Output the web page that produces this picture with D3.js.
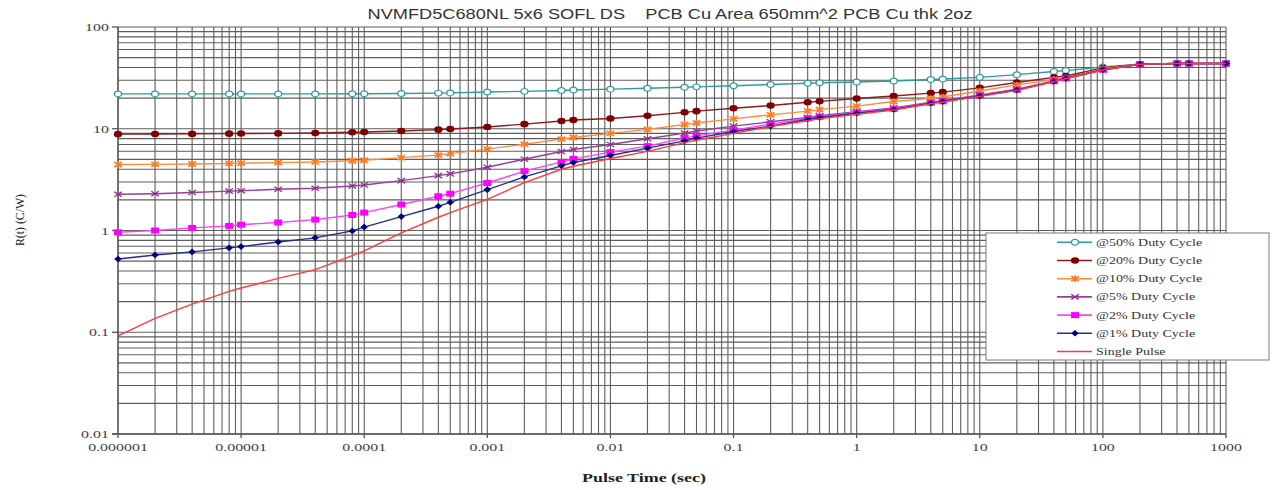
<!DOCTYPE html>
<html>
<head>
<meta charset="utf-8">
<script src="https://cdn.jsdelivr.net/npm/d3@7"></script>
<style>
  body { margin: 0; background: #fff; }
  svg { display: block; }
  .grid line { stroke: #5e5e5e; stroke-width: 1.1; }
  .tickLabel { font-family: "Liberation Serif", serif; font-size: 11px; fill: #404040; }
  .legendText { font-family: "Liberation Serif", serif; font-size: 10px; fill: #333; }
  .title { white-space: pre; }
</style>
</head>
<body>
<svg id="chart" width="1274" height="490"></svg>
<script>
// pulse times (sec), shared by every series
var pulseTime = [1e-6, 2e-6, 4e-6, 8e-6, 1e-5, 2e-5, 4e-5, 8e-5, 1e-4, 2e-4, 4e-4, 5e-4,
                 1e-3, 2e-3, 4e-3, 5e-3, 1e-2, 2e-2, 4e-2, 5e-2, 0.1, 0.2, 0.4, 0.5,
                 1, 2, 4, 5, 10, 20, 40, 50, 100, 200, 400, 500, 1000];

// R(t) values (C/W)
var duty50 = [22.0, 22.0, 22.0, 22.0, 22.0, 22.0, 22.0, 22.1, 22.1, 22.2, 22.4, 22.5,
              23.0, 23.3, 23.8, 24.0, 24.5, 25.0, 25.6, 25.8, 26.5, 27.2, 28.0, 28.3,
              28.8, 29.5, 30.5, 30.8, 32.0, 34.0, 36.5, 37.3, 40.5, 43.0, 43.8, 43.8, 43.8];
var duty20 = [8.85, 8.87, 8.9, 8.95, 8.97, 9.0, 9.1, 9.25, 9.3, 9.5, 9.8, 9.95,
              10.4, 11.1, 11.9, 12.2, 12.6, 13.4, 14.5, 14.9, 15.9, 16.9, 18.2, 18.6,
              19.8, 21.0, 22.4, 22.9, 25.2, 28.5, 32.0, 33.0, 39.5, 43.0, 43.8, 43.8, 43.8];
var duty10 = [4.45, 4.47, 4.5, 4.56, 4.58, 4.65, 4.72, 4.85, 4.9, 5.2, 5.5, 5.7,
              6.3, 7.05, 7.9, 8.2, 9.0, 9.85, 11.0, 11.4, 12.5, 13.7, 14.9, 15.4,
              16.7, 18.5, 19.9, 20.5, 23.5, 27.0, 30.5, 31.5, 39.0, 43.0, 43.8, 43.8, 43.8];
var duty5 = [2.27, 2.3, 2.36, 2.44, 2.46, 2.54, 2.6, 2.74, 2.8, 3.09, 3.46, 3.6,
             4.19, 5.02, 5.97, 6.25, 7.0, 7.97, 9.06, 9.5, 10.6, 11.7, 12.9, 13.4,
             14.7, 16.0, 18.2, 18.9, 21.5, 24.5, 29.5, 31.5, 38.0, 43.0, 43.8, 43.8, 43.8];
var duty2 = [0.96, 1.0, 1.06, 1.11, 1.14, 1.2, 1.28, 1.42, 1.5, 1.8, 2.17, 2.3,
             2.93, 3.83, 4.72, 5.06, 5.9, 6.75, 8.1, 8.5, 9.7, 11.1, 12.7, 13.1,
             14.5, 15.7, 18.0, 18.6, 21.2, 24.2, 29.3, 31.3, 38.0, 43.0, 43.8, 43.8, 43.8];
var duty1 = [0.525, 0.575, 0.616, 0.675, 0.695, 0.77, 0.847, 0.99, 1.08, 1.37, 1.73, 1.89,
             2.52, 3.36, 4.32, 4.66, 5.46, 6.45, 7.6, 8.1, 9.4, 10.6, 12.4, 12.9,
             14.2, 15.5, 17.8, 18.5, 21.0, 24.0, 29.2, 31.2, 38.0, 43.0, 43.8, 43.8, 43.8];
var singlePulse = [0.092, 0.137, 0.189, 0.252, 0.272, 0.338, 0.412, 0.567, 0.63, 0.95, 1.35, 1.5,
                   2.02, 2.95, 4.0, 4.28, 5.1, 6.0, 7.3, 7.7, 9.0, 10.5, 12.0, 12.5,
                   13.9, 15.3, 17.6, 18.3, 20.8, 23.8, 29.0, 31.0, 37.8, 43.0, 43.8, 43.8, 43.8];

var seriesNames = ["@50% Duty Cycle", "@20% Duty Cycle", "@10% Duty Cycle", "@5% Duty Cycle",
                   "@2% Duty Cycle", "@1% Duty Cycle", "Single Pulse"];
var xTickLabels = ["0.000001", "0.00001", "0.0001", "0.001", "0.01", "0.1", "1", "10", "100", "1000"];
var yTickLabels = ["0.01", "0.1", "1", "10", "100"];

var titleText = "NVMFD5C680NL 5x6 SOFL DS    PCB Cu Area 650mm^2 PCB Cu thk 2oz";

// styling per series (kept apart from the data)
var styles = [
  { line: "#2f9c9a", marker: "circleOpen", color: "#2f9c9a" },
  { line: "#8e1b1b", marker: "circle", color: "#7f0000" },
  { line: "#ff8a3a", marker: "asterisk", color: "#ff7a1f" },
  { line: "#9a3c9a", marker: "x", color: "#8e2f8e" },
  { line: "#ff40ff", marker: "square", color: "#ff00ff" },
  { line: "#22308f", marker: "diamond", color: "#000080" },
  { line: "#ff3a3a", marker: null, color: "#ff3a3a" }
];
var allSeries = [duty50, duty20, duty10, duty5, duty2, duty1, singlePulse];

var svg = d3.select("#chart");

var plotLeft = 118, plotRight = 1226, plotTop = 27, plotBottom = 434;

var xScale = d3.scaleLog().domain([1e-6, 1000]).range([plotLeft, plotRight]);
var yScale = d3.scaleLog().domain([0.01, 100]).range([plotBottom, plotTop]);

// grid lines (every 1..9 of each decade)
var grid = svg.append("g").attr("class", "grid");
grid.selectAll("vlines")
    .data(xScale.ticks())
    .enter()
    .append("line")
    .attr("x1", function(d) { return xScale(d); })
    .attr("x2", function(d) { return xScale(d); })
    .attr("y1", plotTop)
    .attr("y2", plotBottom);
grid.selectAll("hlines")
    .data(yScale.ticks())
    .enter()
    .append("line")
    .attr("x1", plotLeft)
    .attr("x2", plotRight)
    .attr("y1", function(d) { return yScale(d); })
    .attr("y2", function(d) { return yScale(d); });

// axes lines + major ticks
svg.append("line")
   .attr("x1", plotLeft).attr("x2", plotLeft)
   .attr("y1", plotTop).attr("y2", plotBottom)
   .attr("stroke", "#555").attr("stroke-width", 1.3);
svg.append("line")
   .attr("x1", plotLeft - 6).attr("x2", plotRight)
   .attr("y1", plotBottom).attr("y2", plotBottom)
   .attr("stroke", "#555").attr("stroke-width", 1.3);

svg.selectAll("yTicks")
   .data(yTickLabels)
   .enter()
   .append("line")
   .attr("x1", plotLeft - 6).attr("x2", plotLeft)
   .attr("y1", function(d) { return yScale(+d); })
   .attr("y2", function(d) { return yScale(+d); })
   .attr("stroke", "#555").attr("stroke-width", 1.3);

svg.selectAll("xTicks")
   .data(xTickLabels)
   .enter()
   .append("line")
   .attr("x1", function(d) { return xScale(+d); })
   .attr("x2", function(d) { return xScale(+d); })
   .attr("y1", plotBottom).attr("y2", plotBottom + 4)
   .attr("stroke", "#555").attr("stroke-width", 1.3);

// tick labels (the picture is stretched sideways, so the text is too)
svg.selectAll("yLabels")
   .data(yTickLabels)
   .enter()
   .append("text")
   .attr("class", "tickLabel")
   .attr("text-anchor", "end")
   .attr("transform", function(d) {
     return "translate(" + (plotLeft - 9) + "," + (yScale(+d) + 4) + ") scale(1.45,1)";
   })
   .text(function(d) { return d; });

svg.selectAll("xLabels")
   .data(xTickLabels)
   .enter()
   .append("text")
   .attr("class", "tickLabel")
   .attr("text-anchor", "middle")
   .attr("transform", function(d) {
     return "translate(" + xScale(+d) + "," + (plotBottom + 17) + ") scale(1.45,1)";
   })
   .text(function(d) { return d; });

// lines
var lineGen = d3.line()
    .x(function(d, i) { return xScale(pulseTime[i]); })
    .y(function(d) { return yScale(d); });

function markerPath(type) {
  if (type == "circleOpen") return d3.symbol(d3.symbolCircle, 26)();
  if (type == "circle") return d3.symbol(d3.symbolCircle, 34)();
  if (type == "asterisk") return "M-3,-2.6L3,2.6M-3,2.6L3,-2.6M0,-3.2L0,3.2";
  if (type == "x") return "M-3,-2.6L3,2.6M-3,2.6L3,-2.6";
  if (type == "square") return "M-3.2,-3H3.2V3H-3.2Z";
  if (type == "diamond") return "M0,-3.3L3,0L0,3.3L-3,0Z";
  return "";
}

function drawMarker(sel, st) {
  var isStroke = (st.marker == "circleOpen" || st.marker == "asterisk" || st.marker == "x");
  sel.attr("d", markerPath(st.marker))
     .attr("fill", st.marker == "circleOpen" ? "#fff" : (isStroke ? "none" : st.color))
     .attr("stroke", isStroke ? st.color : "none")
     .attr("stroke-width", st.marker == "asterisk" ? 1.5 : 1.2);
}

allSeries.forEach(function(vals, k) {
  var st = styles[k];
  svg.append("path")
     .datum(vals)
     .attr("fill", "none")
     .attr("stroke", st.line)
     .attr("stroke-width", 1.4)
     .attr("d", lineGen);

  if (st.marker) {
    svg.selectAll("m" + k)
       .data(vals)
       .enter()
       .append("path")
       .attr("transform", function(d, i) {
         return "translate(" + xScale(pulseTime[i]) + "," + yScale(d) + ") scale(1.25,1)";
       })
       .call(drawMarker, st);
  }
});

// legend
var legendX = 986, legendY = 233;
svg.append("rect")
   .attr("x", legendX).attr("y", legendY)
   .attr("width", 283).attr("height", 127)
   .attr("fill", "#fff").attr("stroke", "#7a7a7a").attr("stroke-width", 1);

seriesNames.forEach(function(name, k) {
  var st = styles[k];
  var ly = 242.3 + 18.2 * k;
  svg.append("line")
     .attr("x1", 1057).attr("x2", 1092)
     .attr("y1", ly).attr("y2", ly)
     .attr("stroke", st.line).attr("stroke-width", 1.6);
  if (st.marker) {
    svg.append("path")
       .attr("transform", "translate(1075," + ly + ") scale(1.25,1)")
       .call(drawMarker, st);
  }
  svg.append("text")
     .attr("class", "legendText")
     .attr("transform", "translate(1096," + (ly + 3.5) + ") scale(1.4,1)")
     .text(name);
});

// title and axis titles
svg.append("text")
   .attr("class", "title")
   .attr("x", 670).attr("y", 19)
   .attr("text-anchor", "middle")
   .attr("font-family", "Liberation Sans, Arial, sans-serif")
   .attr("font-size", "15px")
   .attr("fill", "#333")
   .attr("textLength", 605)
   .attr("lengthAdjust", "spacingAndGlyphs")
   .text(titleText);

svg.append("text")
   .attr("x", 644).attr("y", 482)
   .attr("text-anchor", "middle")
   .attr("font-family", "Liberation Serif, serif")
   .attr("font-weight", "bold")
   .attr("font-size", "12px")
   .attr("fill", "#222")
   .attr("textLength", 124)
   .attr("lengthAdjust", "spacingAndGlyphs")
   .text("Pulse Time (sec)");

svg.append("text")
   .attr("transform", "translate(24,220) rotate(-90)")
   .attr("text-anchor", "middle")
   .attr("font-family", "Liberation Serif, serif")
   .attr("font-size", "12px")
   .attr("fill", "#222")
   .attr("textLength", 52)
   .attr("lengthAdjust", "spacingAndGlyphs")
   .text("R(t) (C/W)");
</script>
</body>
</html>
